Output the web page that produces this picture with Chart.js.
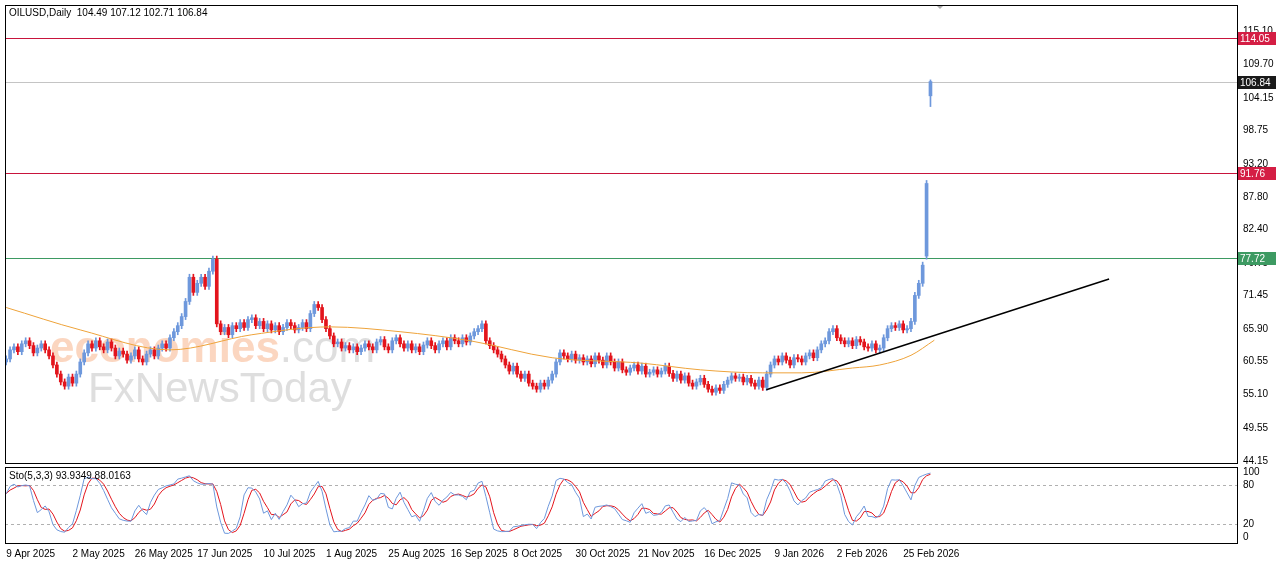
<!DOCTYPE html>
<html><head><meta charset="utf-8">
<script src="https://cdn.jsdelivr.net/npm/chart.js@4.4.1/dist/chart.umd.min.js"></script>
<style>
html,body{margin:0;padding:0;background:#fff;width:1280px;height:567px;overflow:hidden}
#w1{position:absolute;left:0;top:-3px;width:1280px;height:474px}
#w2{position:absolute;left:0;top:459px;width:1280px;height:108px}
</style></head><body>
<div id="w1"><canvas id="c1"></canvas></div>
<div id="w2"><canvas id="c2"></canvas></div>
<script>
const closes=[61.0,62.5,63.0,62.2,63.5,64.0,63.2,62.0,62.8,63.5,
62.5,61.5,60.0,58.5,57.2,56.5,58.0,57.0,58.5,60.5,
62.0,63.5,62.8,64.0,63.0,62.5,63.8,62.8,61.5,62.3,
61.8,60.8,61.5,62.5,61.0,60.5,61.8,62.5,61.5,62.8,
63.5,62.8,64.5,65.5,66.5,68.0,70.5,74.5,72.0,73.5,
74.5,73.0,75.5,77.5,66.8,65.5,66.2,65.0,66.5,66.0,
67.0,66.2,67.5,67.8,66.5,67.2,66.0,66.8,65.8,66.5,
65.5,66.2,67.0,66.5,65.8,66.2,67.0,66.0,68.5,70.0,
69.5,67.5,66.0,64.8,63.5,63.8,62.8,63.2,62.5,63.0,
62.2,62.8,63.5,63.0,62.5,63.8,64.2,63.0,62.5,64.0,
64.5,63.5,62.8,63.5,62.5,63.0,62.2,63.3,64.0,63.2,
62.5,63.5,64.0,63.0,64.5,64.0,63.5,64.5,63.8,64.8,
65.5,66.0,66.8,64.0,63.2,62.5,61.8,61.0,60.0,59.0,
59.8,58.5,57.8,58.5,57.0,56.5,56.0,57.0,56.5,57.5,
58.5,60.5,62.0,61.5,61.0,61.8,60.8,61.2,60.5,61.0,
60.2,61.5,60.8,60.0,61.5,60.5,59.5,60.5,59.2,58.8,
59.5,60.0,59.0,59.8,58.5,58.8,59.2,58.5,59.0,59.8,
58.6,57.8,58.5,57.5,58.2,57.0,56.5,57.2,57.8,56.8,
56.0,55.5,56.2,55.8,56.8,57.5,58.2,57.8,58.0,57.2,
57.8,57.0,56.5,57.5,56.3,58.5,60.0,61.0,60.5,61.5,
60.8,60.0,61.2,61.0,60.5,61.5,62.0,61.2,62.5,63.5,
64.0,65.5,66.0,64.5,64.0,63.5,64.0,63.2,64.2,63.8,
63.0,62.8,63.5,62.5,62.8,64.5,66.0,66.5,66.2,66.8,
65.8,66.0,67.2,71.5,73.5,76.5,90.0,106.84];
const lastBar={o:104.49,h:107.12,l:102.71,c:106.84};
const wick=0.5;
const maIdx=[0,19,42,63,83,101,119,140,163,178,194,204,217,224,232,238];
const maVal=[69.5,65.8,62.5,65.0,66.3,65.5,64.0,61.2,60.3,59.2,58.7,58.7,59.5,60.0,61.6,64.1];
const trendIdx=[194.9,282.8];
const trendVal=[55.9,74.2];
const levels=[{v:114.05,line:'#c8143c',box:'#d41e44'},{v:106.84,line:'#c4c4c4',box:'#1a1a1a'},{v:91.76,line:'#c8143c',box:'#d41e44'},{v:77.72,line:'#3d9a62',box:'#3d9a62'}];
const priceTicks=[115.10,109.70,104.15,98.75,93.20,87.80,82.40,76.75,71.45,65.90,60.55,55.10,49.55,44.15];
const stoTicks=[100,80,20,0];
const dateLabels=['9 Apr 2025','2 May 2025','26 May 2025','17 Jun 2025','10 Jul 2025','1 Aug 2025','25 Aug 2025','16 Sep 2025','8 Oct 2025','30 Oct 2025','21 Nov 2025','16 Dec 2025','9 Jan 2026','2 Feb 2026','25 Feb 2026'];
const dateISO=['2025-04-09','2025-05-02','2025-05-26','2025-06-17','2025-07-10','2025-08-01','2025-08-25','2025-09-16','2025-10-08','2025-10-30','2025-11-21','2025-12-16','2026-01-09','2026-02-02','2026-02-25'];

const bars=closes.map((c,i)=>{
  let o=i===0?60.5:closes[i-1];
  if(i===closes.length-1) return lastBar;
  if(i===closes.length-2) o=78.0;
  return {o,c,h:Math.max(o,c)+wick,l:Math.min(o,c)-wick};
});
const dayIdx={};
{let d=new Date(Date.UTC(2025,3,9));let k=0;while(k<300){const wd=d.getUTCDay();if(wd!==0&&wd!==6){dayIdx[d.toISOString().slice(0,10)]=k;k++;}d=new Date(d.getTime()+864e5);}}
const labelIdx=dateISO.map(s=>dayIdx[s]);
const rawK=bars.map((b,i)=>{const s=bars.slice(Math.max(0,i-4),i+1);const hh=Math.max(...s.map(x=>x.h)),ll=Math.min(...s.map(x=>x.l));return [b.c-ll,hh-ll];});
const K=rawK.map((r,i)=>{const s=rawK.slice(Math.max(0,i-2),i+1);const a=s.reduce((p,x)=>p+x[0],0),b=s.reduce((p,x)=>p+x[1],0);return b?100*a/b:50;});
const D=K.map((k,i)=>{const s=K.slice(Math.max(0,i-2),i+1);return s.reduce((p,x)=>p+x,0)/s.length;});

const BLUE='#6e98dc',RED='#e3141c';
const XMIN=-0.3,XMAX=-0.3+1232/3.9;
const FONT={family:'Liberation Sans, Arial',size:10};

const frame={id:'frame',afterDraw(ch){const a=ch.chartArea,x=ch.ctx;x.save();x.strokeStyle='#000';x.lineWidth=1;x.strokeRect(Math.round(a.left)+0.5,Math.round(a.top)+0.5,Math.round(a.width),Math.round(a.height));x.restore();}};

const overlay={id:'ov',
beforeDatasetsDraw(ch){const x=ch.ctx,a=ch.chartArea,ys=ch.scales.y;x.save();
 x.font='bold 44px Liberation Sans, Arial';x.textBaseline='alphabetic';
 x.fillStyle='rgba(248,180,140,0.55)';x.fillText('economies',50,365);
 const w=x.measureText('economies').width;x.fillStyle='rgba(200,200,200,0.6)';x.font='44px Liberation Sans, Arial';x.fillText('.com',50+w,365);
 x.font='42px Liberation Sans, Arial';x.fillStyle='rgba(200,200,200,0.6)';x.fillText('FxNewsToday',88,405);
 levels.forEach(l=>{const y=Math.round(ys.getPixelForValue(l.v))+0.5;x.strokeStyle=l.line;x.lineWidth=1;x.beginPath();x.moveTo(a.left,y);x.lineTo(a.right,y);x.stroke();});
 x.restore();},
afterDraw(ch){const x=ch.ctx,a=ch.chartArea,ys=ch.scales.y;x.save();
 levels.forEach(l=>{const y=Math.round(ys.getPixelForValue(l.v));x.fillStyle=l.box;x.fillRect(a.right+1,y-6,38,13);x.fillStyle='#fff';x.font=FONT.size+'px '+FONT.family;x.textBaseline='middle';x.fillText(l.v.toFixed(2),a.right+3,y+1);});
 x.fillStyle='#000';x.font='10px Liberation Sans, Arial';x.textBaseline='middle';
 x.fillText('OILUSD,Daily  104.49 107.12 102.71 106.84',9,a.top+8);
 x.fillStyle='#aaa';x.beginPath();x.moveTo(936,a.top);x.lineTo(944,a.top);x.lineTo(940,a.top+4);x.fill();
 x.restore();}};

const rightAxis=(extra)=>Object.assign({position:'right',grid:{display:false,drawTicks:true,tickLength:4,color:'#000'},border:{display:false},
 ticks:{color:'#000',font:FONT,padding:2},afterFit(s){s.width=43;}},extra);

new Chart(document.getElementById('c1'),{
 data:{datasets:[
  {type:'bar',order:3,grouped:false,barThickness:1,data:bars.map((b,i)=>({x:i,y:[b.l,b.h]})),backgroundColor:bars.map(b=>b.c>=b.o?BLUE:RED)},
  {type:'bar',order:2,grouped:false,barThickness:3,minBarLength:1,data:bars.map((b,i)=>({x:i,y:[b.o,b.c]})),backgroundColor:bars.map(b=>b.c>=b.o?BLUE:RED)},
  {type:'line',order:1,data:maIdx.map((v,i)=>({x:v,y:maVal[i]})),borderColor:'#eea33a',borderWidth:1,pointRadius:0,cubicInterpolationMode:'monotone'},
  {type:'line',order:0,data:trendIdx.map((v,i)=>({x:v,y:trendVal[i]})),borderColor:'#000',borderWidth:1.5,pointRadius:0}
 ]},
 options:{responsive:true,maintainAspectRatio:false,animation:false,events:[],
  layout:{padding:{left:5,top:5,bottom:2,right:0}},
  plugins:{legend:{display:false},tooltip:{enabled:false}},
  scales:{
   x:{type:'linear',offset:false,min:XMIN,max:XMAX,display:false},
   y:rightAxis({min:43.8,max:119.5,afterBuildTicks(s){s.ticks=priceTicks.map(v=>({value:v}));},ticks:{color:'#000',font:FONT,padding:2,callback:v=>v.toFixed(2)}})
  }},
 plugins:[overlay,frame]
});

const stoOv={id:'sto',beforeDatasetsDraw(ch){const x=ch.ctx,a=ch.chartArea,ys=ch.scales.y;x.save();x.setLineDash([3,3]);x.strokeStyle='#b0b0b0';
 [80,20].forEach(v=>{const y=Math.round(ys.getPixelForValue(v))+0.5;x.beginPath();x.moveTo(a.left,y);x.lineTo(a.right,y);x.stroke();});x.restore();},
 afterDraw(ch){const x=ch.ctx,a=ch.chartArea;x.save();x.fillStyle='#000';x.font='10px Liberation Sans, Arial';x.textBaseline='middle';x.fillText('Sto(5,3,3) 93.9349 88.0163',9,a.top+9);x.restore();}};

new Chart(document.getElementById('c2'),{
 type:'line',
 data:{datasets:[
  {data:K.map((v,i)=>({x:i,y:v})),borderColor:BLUE,borderWidth:1,pointRadius:0},
  {data:D.map((v,i)=>({x:i,y:v})),borderColor:RED,borderWidth:1,pointRadius:0}
 ]},
 options:{responsive:true,maintainAspectRatio:false,animation:false,events:[],
  layout:{padding:{left:5,top:2,bottom:0,right:0}},
  plugins:{legend:{display:false},tooltip:{enabled:false}},
  scales:{
   x:{type:'linear',min:XMIN,max:XMAX,grid:{display:false,drawTicks:true,tickLength:4,color:'#000'},border:{display:false},
      afterBuildTicks(s){s.ticks=labelIdx.map(v=>({value:v}));},
      ticks:{color:'#000',font:FONT,maxRotation:0,autoSkip:false,align:'start',padding:1,callback:(v)=>dateLabels[labelIdx.indexOf(v)]},
      afterFit(s){s.height=24;}},
   y:rightAxis({min:-9.2,max:107.7,afterBuildTicks(s){s.ticks=stoTicks.map(v=>({value:v}));}})
  }},
 plugins:[stoOv,frame]
});
</script></body></html>
